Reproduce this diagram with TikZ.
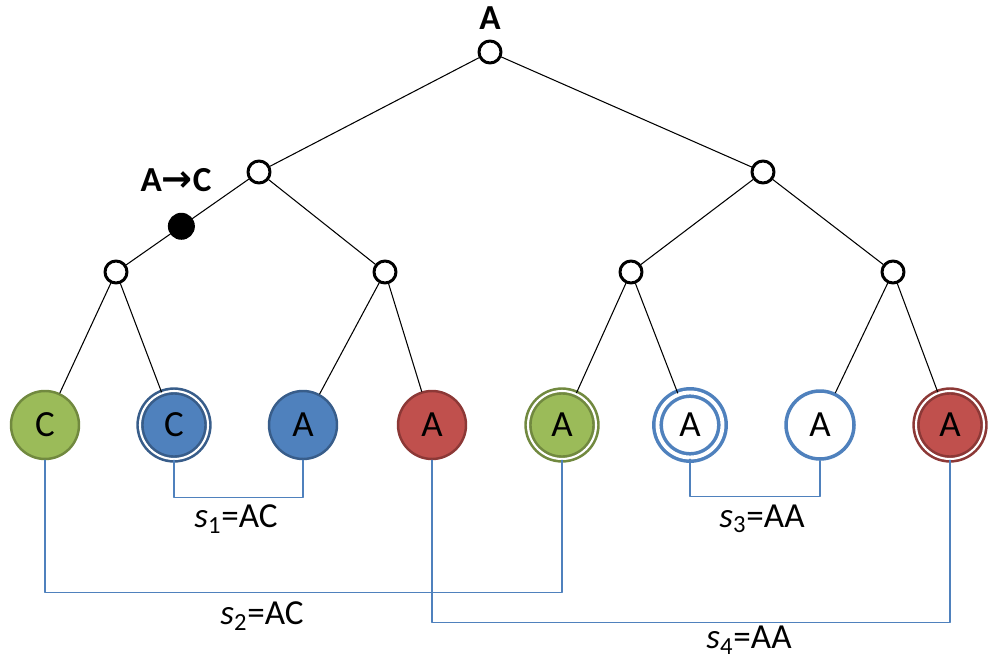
\documentclass[tikz,border=0pt]{standalone}
\usepackage{fontspec}
\setmainfont{Carlito}
\newfontfamily\arrowfont{DejaVu Sans}
\usetikzlibrary{positioning}
\definecolor{grn}{HTML}{9BBB59}
\definecolor{grnD}{HTML}{71893F}
\definecolor{blu}{HTML}{4F81BD}
\definecolor{bluD}{HTML}{385D8A}
\definecolor{rd}{HTML}{C0504D}
\definecolor{rdD}{HTML}{8C3836}
\begin{document}
\begin{tikzpicture}[line cap=round,line join=round,x=0.02cm,y=-0.02cm,
	knot/.style={circle,draw,line width=1.7pt,fill=white,minimum size=0.44cm,inner sep=0pt},
	mut/.style={circle,fill=black,minimum size=0.54cm,inner sep=0pt},
	leaf/.style={circle,minimum size=1.36cm,inner sep=0pt,line width=1.4pt,font=\fontsize{21}{22}\selectfont},
	dbl/.style={line width=1.5pt,double=white,double distance=1.2pt},
	link/.style={blu,line width=0.8pt},
	lab/.style={font=\fontsize{20}{22}\selectfont}]
	
	\useasboundingbox (0,0) rectangle (989,671);
	
	% tree
	\node[knot] (r) at (490,52) {};
	\node[font=\fontsize{20}{22}\selectfont\bfseries] (rl) at (490,18) {A};
	\node[knot] (a) at (259,172) {};
	\node[knot] (b) at (763,172) {};
	\node[knot] (aa) at (116,272) {};
	\node[knot] (ab) at (385,272) {};
	\node[knot] (ba) at (631,272) {};
	\node[knot] (bb) at (893,272) {};
	
	\node[leaf,fill=grn,draw=grnD] (c1) at (45,425) {C};
	\node[leaf,fill=blu,draw=bluD,dbl] (c2) at (174,425) {C};
	\node[leaf,fill=blu,draw=bluD] (c3) at (303,425) {A};
	\node[leaf,fill=rd,draw=rdD] (c4) at (432,425) {A};
	\node[leaf,fill=grn,draw=grnD,dbl] (c5) at (562,425) {A};
	\node[leaf,fill=white,draw=blu,line width=2pt,double=white,double distance=2.2pt,minimum size=1.3cm] (c6) at (690,425) {A};
	\node[leaf,fill=white,draw=blu,line width=2pt] (c7) at (820,425) {A};
	\node[leaf,fill=rd,draw=rdD,dbl] (c8) at (950,425) {A};
	
	\draw[line width=0.6pt] (r)--(a) (r)--(b) (a)--(ab) (b)--(ba) (b)--(bb);
	\draw[line width=0.6pt] (a)-- node[mut,pos=0.55] (m) {} (aa);
	\node[font=\fontsize{20}{22}\selectfont\bfseries] (ml) at (176,180) {A{\arrowfont\fontsize{21}{22}\selectfont →}C};
	\draw[line width=0.6pt] (aa)--(c1) (aa)--(c2) (ab)--(c3) (ab)--(c4);
	\draw[line width=0.6pt] (ba)--(c5) (ba)--(c6) (bb)--(c7) (bb)--(c8);
	
	% pairs
	\draw[link] (c2.south) -- ++(0,37) -| (c3.south);
	\draw[link] (c1.south) -- ++(0,132) -| (c5.south);
	\draw[link] (c6.south) -- ++(0,37) -| (c7.south);
	\draw[link] (c4.south) -- ++(0,162) -| (c8.south);
	\node[lab] (s1) at (236,519) {\textit{s}\textsubscript{1}=AC};
	\node[lab] (s2) at (262,616) {\textit{s}\textsubscript{2}=AC};
	\node[lab] (s3) at (762,519) {\textit{s}\textsubscript{3}=AA};
	\node[lab] (s4) at (749,640) {\textit{s}\textsubscript{4}=AA};
\end{tikzpicture}
\end{document}
